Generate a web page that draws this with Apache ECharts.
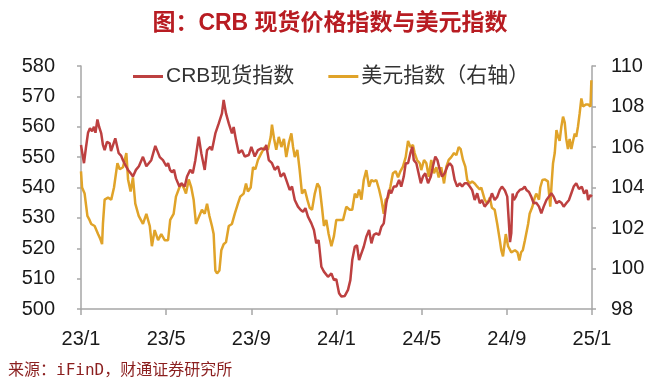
<!DOCTYPE html>
<html><head><meta charset="utf-8">
<script src="https://cdn.jsdelivr.net/npm/echarts@6/dist/echarts.min.js"></script>
<style>html,body{margin:0;padding:0;background:#fff}#c{width:660px;height:387px}</style>
</head><body><div id="c"></div>
<script>
// x positions in months since 2023-01
const xTickLabels = ['23/1','23/5','23/9','24/1','24/5','24/9','25/1'];
const crbT = [0.00,0.07,0.14,0.23,0.33,0.42,0.52,0.61,0.68,0.77,0.85,0.95,1.03,1.11,1.22,1.35,1.41,1.61,1.77,1.88,1.97,2.11,2.21,2.35,2.44,2.58,2.72,2.91,3.07,3.30,3.49,3.70,3.85,4.01,4.09,4.18,4.27,4.37,4.46,4.62,4.71,4.87,4.98,5.13,5.25,5.37,5.53,5.65,5.81,5.92,6.07,6.15,6.31,6.47,6.62,6.70,6.81,6.94,7.09,7.17,7.28,7.41,7.56,7.69,7.88,8.00,8.16,8.31,8.47,8.63,8.70,8.82,8.97,9.10,9.25,9.38,9.53,9.64,9.80,9.91,10.04,10.19,10.32,10.43,10.54,10.66,10.82,10.94,11.05,11.16,11.29,11.41,11.60,11.76,11.88,11.99,12.12,12.23,12.39,12.54,12.65,12.74,12.86,12.96,13.06,13.17,13.28,13.40,13.53,13.64,13.75,13.87,14.00,14.11,14.22,14.34,14.47,14.57,14.69,14.81,14.94,15.04,15.16,15.25,15.36,15.47,15.56,15.63,15.75,15.83,15.96,16.06,16.17,16.30,16.43,16.53,16.64,16.74,16.85,16.96,17.08,17.21,17.32,17.43,17.55,17.67,17.79,17.90,18.02,18.14,18.26,18.37,18.49,18.61,18.73,18.83,18.96,19.08,19.20,19.30,19.43,19.55,19.67,19.77,19.91,20.02,20.10,20.15,20.21,20.27,20.33,20.43,20.48,20.61,20.73,20.84,20.92,21.04,21.15,21.26,21.38,21.51,21.62,21.73,21.86,21.98,22.09,22.20,22.33,22.45,22.56,22.67,22.79,22.92,23.03,23.14,23.26,23.39,23.52,23.63,23.75,23.82,23.92,24.00];
const crbV = [554,551,548,553,558,559.5,558.5,560,558,562.4,560,557.8,554,552.3,555,554.5,552,556.2,551.3,550.5,549,547,545.8,544.5,543.6,545.8,547,550.1,547,549,553.7,550,549,547,548,545.8,545,545.8,543,540.3,541.4,540.3,543.6,545.8,544.7,549,556.7,551.3,545.8,552.3,553.4,552.3,557.8,561.1,564.4,568.8,564.4,561.1,557.8,559.9,555.6,551.3,552.3,550.2,550.7,553.4,550.2,552.3,552.9,552.5,554,549,548,545.8,547,543.6,544.7,542.5,539.2,540.3,535.9,533.7,532.6,532,533.2,530.4,528.2,526,521.6,522.7,513.9,512.3,510.6,511.7,509.5,509.8,505.2,504.1,504.3,506.3,509.5,516.1,520.5,521,516.1,518.3,520.5,523.8,526,521.6,524.4,524.9,524.4,527.1,528.2,534.8,539.2,538.1,540.3,540.3,542.5,540.3,543.6,548,548,551.3,553.4,549,548,548,541.4,543.6,544.7,541.4,543.6,547,550.2,549,545.8,543.6,544.7,547,548,547,542.5,540.3,541.4,540.3,541.4,541.4,540.3,539.2,535.9,538.1,534.8,535.9,533.7,534.8,535.9,538.1,535.9,536.9,539.2,540.3,539,537,528,522,525,538,535.9,537,538.1,539.2,539.5,540.3,539.2,538.5,536.9,534.8,535,533.7,531.5,533.7,535.9,537,538.1,537,534.8,535.5,535,533.7,534.8,535.9,538.1,540.3,541.4,539.5,540.3,538,539.2,535.9,537.5,537];
const dxyT = [0.00,0.05,0.17,0.30,0.40,0.48,0.64,0.80,0.89,0.99,1.03,1.11,1.27,1.42,1.55,1.71,1.82,1.97,2.13,2.21,2.33,2.44,2.55,2.71,2.91,3.07,3.23,3.33,3.46,3.62,3.77,3.93,4.09,4.19,4.35,4.46,4.62,4.71,4.82,4.93,5.06,5.18,5.29,5.40,5.56,5.68,5.81,5.92,6.03,6.15,6.23,6.31,6.39,6.50,6.59,6.70,6.81,6.94,7.09,7.22,7.37,7.48,7.64,7.75,7.84,7.97,8.08,8.19,8.31,8.47,8.63,8.78,8.91,8.97,9.07,9.17,9.29,9.41,9.53,9.64,9.76,9.88,9.96,10.04,10.16,10.27,10.38,10.51,10.63,10.74,10.85,10.98,11.10,11.21,11.32,11.41,11.52,11.63,11.76,11.88,11.99,12.15,12.31,12.46,12.62,12.74,12.86,12.96,13.06,13.17,13.28,13.40,13.53,13.64,13.75,13.87,14.00,14.11,14.22,14.31,14.42,14.53,14.65,14.78,14.89,15.00,15.12,15.25,15.36,15.47,15.59,15.67,15.78,15.91,15.98,16.11,16.22,16.33,16.45,16.58,16.69,16.80,16.92,17.05,17.16,17.27,17.39,17.52,17.63,17.74,17.83,17.94,18.05,18.14,18.26,18.37,18.49,18.61,18.73,18.80,18.88,18.96,19.08,19.20,19.30,19.43,19.55,19.67,19.74,19.82,19.95,20.06,20.21,20.38,20.50,20.59,20.67,20.75,20.85,21.00,21.07,21.20,21.31,21.38,21.51,21.57,21.67,21.78,21.93,22.04,22.11,22.17,22.25,22.33,22.41,22.48,22.56,22.64,22.72,22.79,22.87,22.95,23.03,23.11,23.19,23.26,23.34,23.42,23.50,23.58,23.71,23.82,23.93,23.97,24.00];
const dxyV = [104.8,104.0,103.7,102.6,102.4,102.2,102.1,101.7,101.5,101.2,102.2,103.4,103.5,103.4,104.0,105.2,104.9,105.0,105.7,104.4,103.8,104.5,103.2,102.6,102.2,102.7,102.1,101.1,101.9,101.4,101.7,101.4,101.4,102.4,102.7,103.55,104.0,104.2,104.0,103.7,104.4,104.0,103.4,102.2,102.6,102.9,102.7,103.2,102.6,102.1,101.7,99.9,99.76,99.9,100.9,101.2,101.3,102.1,102.2,102.7,103.2,103.55,103.7,104.2,103.8,104.0,105.0,104.9,105.36,105.7,106.0,105.86,106.5,107.1,106.4,105.86,106.5,106.0,106.4,105.5,106.2,106.67,106.0,105.5,105.86,104.86,103.7,103.9,103.4,103.0,102.9,103.7,104.2,104.0,103.0,102.1,102.4,101.7,101.1,101.6,102.4,102.4,102.4,103.05,102.9,102.9,103.7,103.5,103.9,103.4,104.37,104.86,104.04,104.37,104.3,104.37,103.9,103.4,102.7,103.4,103.5,104.04,104.7,104.8,104.5,104.8,105.03,105.5,106.3,106.0,106.1,105.7,105.36,105.2,104.86,105.36,105.2,104.53,105.36,104.7,105.0,104.5,105.0,104.2,105.03,105.36,105.5,105.7,105.6,106.0,105.9,105.36,105.03,104.37,104.2,104.3,104.2,104.04,103.9,104.0,103.7,103.4,103.2,103.5,103.0,102.9,102.2,101.4,100.9,100.6,101.7,101.1,100.8,100.9,100.8,100.4,100.8,100.9,101.4,102.2,102.7,103.05,103.5,103.7,103.4,104.0,104.37,104.4,104.3,103.05,104.3,105.2,105.7,106.84,106.5,106.3,107.0,107.5,107.2,106.4,105.9,106.4,105.9,106.3,106.67,106.5,107.0,107.66,108.4,108.0,108.1,108.1,108.0,109.3,109.3];

const crbData = crbT.map((t,i)=>[t,crbV[i]]);
const dxyData = dxyT.map((t,i)=>[t,dxyV[i]]);

const chart = echarts.init(document.getElementById('c'), null, {renderer:'canvas'});
const axisCol = '#a6a6a6';
const lblFont = {color:'#1a1a1a', fontSize:20, fontFamily:'Liberation Sans, Arial, sans-serif'};
chart.setOption({
  animation:false,
  backgroundColor:'#fff',
  title:[{
    text:'图：CRB 现货价格指数与美元指数',
    left:'center', top:7,
    textStyle:{color:'#b81c22', fontSize:23, fontWeight:'bold', fontFamily:'Liberation Sans, Noto Sans CJK SC, sans-serif'}
  },{
    text:'来源：iFinD，财通证券研究所',
    left:3, top:358,
    textStyle:{color:'#8b1f1f', fontSize:16, fontWeight:'normal', fontFamily:'DejaVu Sans Mono, Noto Sans CJK SC, monospace'}
  }],
  legend:{
    left:128, top:61, itemWidth:30, itemHeight:3, itemGap:34, icon:'rect',
    textStyle:{color:'#333', fontSize:21, fontFamily:'Liberation Sans, Noto Sans CJK SC, sans-serif', padding:[0,0,0,-2]},
    data:['CRB现货指数','美元指数（右轴）']
  },
  grid:{left:81, right:68, top:66, bottom:78},
  xAxis:{
    type:'value', min:0, max:24, interval:4,
    axisLine:{lineStyle:{color:axisCol, width:1.5}},
    axisTick:{show:true, length:6, lineStyle:{color:axisCol, width:1.5}},
    splitLine:{show:false},
    axisLabel:Object.assign({margin:20, formatter:v=>xTickLabels[Math.round(v/4)]||''}, lblFont)
  },
  yAxis:[{
    type:'value', min:500, max:580, interval:10, position:'left',
    axisLine:{show:true, lineStyle:{color:axisCol, width:1.5}},
    axisTick:{show:true, length:4, lineStyle:{color:axisCol, width:1.5}},
    splitLine:{show:false},
    axisLabel:Object.assign({margin:26}, lblFont)
  },{
    type:'value', min:98, max:110, interval:2, position:'right',
    axisLine:{show:true, lineStyle:{color:axisCol, width:1.5}},
    axisTick:{show:true, length:4, lineStyle:{color:axisCol, width:1.5}},
    splitLine:{show:false},
    axisLabel:Object.assign({margin:19}, lblFont)
  }],
  series:[{
    name:'CRB现货指数', type:'line', yAxisIndex:0, data:crbData,
    symbol:'none', lineStyle:{color:'#bd4040', width:2.5}, itemStyle:{color:'#bd4040'}, z:3
  },{
    name:'美元指数（右轴）', type:'line', yAxisIndex:1, data:dxyData,
    symbol:'none', lineStyle:{color:'#e0a329', width:2.5}, itemStyle:{color:'#e0a329'}, z:2
  }]
});
</script></body></html>
